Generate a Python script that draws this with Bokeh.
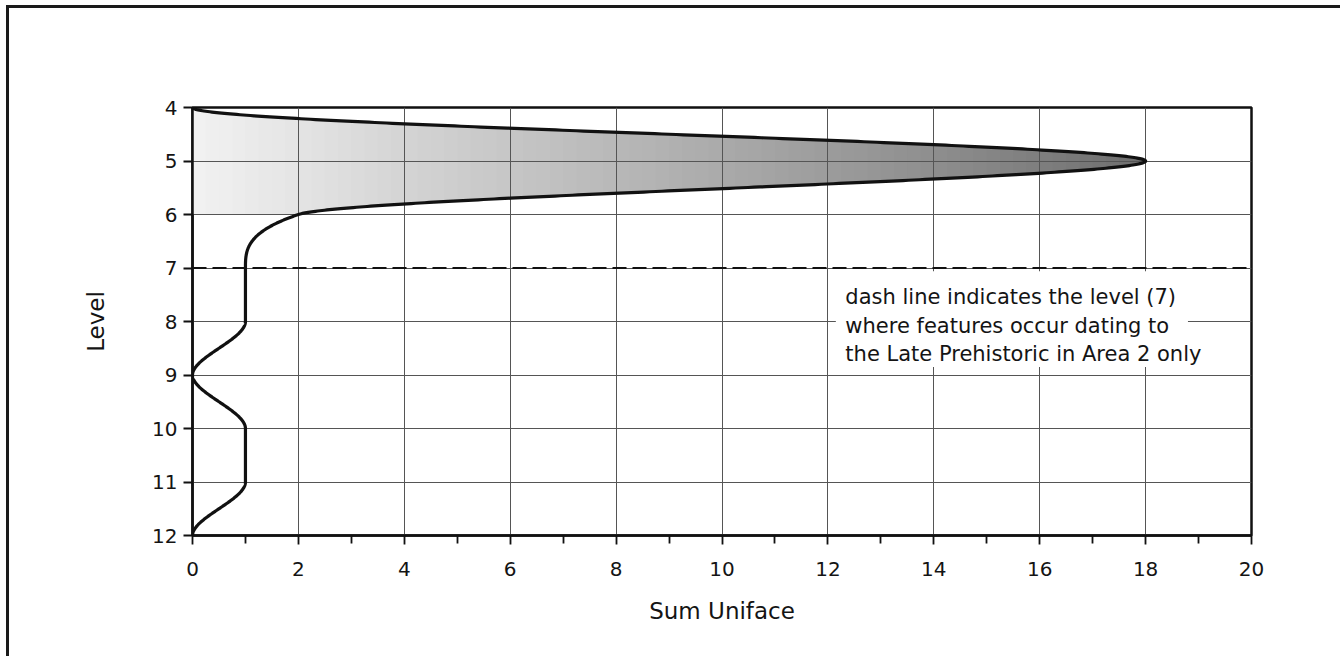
import numpy as np
from bokeh.plotting import figure
from bokeh.models import Range1d, FixedTicker, Span, ColumnDataSource
from bokeh.core.properties import value
from bokeh.embed import file_html
from bokeh.resources import INLINE

# ---- data ----
levels = [4, 5, 6, 7, 8, 9, 10, 11, 12]
sum_uniface = [0, 18, 2, 1, 1, 0, 1, 1, 0]
x_ticks = [0, 2, 4, 6, 8, 10, 12, 14, 16, 18, 20]
x_minor = [1, 3, 5, 7, 9, 11, 13, 15, 17, 19]
y_ticks = [4, 5, 6, 7, 8, 9, 10, 11, 12]
dash_level = 7
note_lines = [
    "dash line indicates the level (7)",
    "where features occur dating to",
    "the Late Prehistoric in Area 2 only",
]
x_title = "Sum Uniface"
y_title = "Level"

FONT = "DejaVu Sans"
INK = "#141414"


def monotone_slopes(xs, ys):
    xs = np.asarray(xs, float)
    ys = np.asarray(ys, float)
    h = np.diff(xs)
    d = np.diff(ys) / h
    m = np.zeros(len(xs))
    for i in range(1, len(xs) - 1):
        if d[i - 1] * d[i] > 0:
            m[i] = (d[i - 1] + d[i]) / 2.0
    for k in range(len(d)):
        if d[k] == 0:
            m[k] = 0.0
            m[k + 1] = 0.0
            continue
        a = m[k] / d[k]
        b = m[k + 1] / d[k]
        s = a * a + b * b
        if s > 9:
            tau = 3.0 / np.sqrt(s)
            m[k] = tau * a * d[k]
            m[k + 1] = tau * b * d[k]
    return m


def smooth(xs, ys, n=200):
    xs = np.asarray(xs, float)
    ys = np.asarray(ys, float)
    m = monotone_slopes(xs, ys)
    out_l, out_v = [], []
    for k in range(len(xs) - 1):
        h = xs[k + 1] - xs[k]
        t = np.linspace(0, 1, n, endpoint=(k == len(xs) - 2))
        h00 = 2 * t**3 - 3 * t**2 + 1
        h10 = t**3 - 2 * t**2 + t
        h01 = -2 * t**3 + 3 * t**2
        h11 = t**3 - t**2
        out_l.append(xs[k] + t * h)
        out_v.append(h00 * ys[k] + h10 * h * m[k] + h01 * ys[k + 1] + h11 * h * m[k + 1])
    return np.concatenate(out_l), np.concatenate(out_v)


curve_level, curve_x = smooth(levels, sum_uniface)

p = figure(
    width=1340, height=656,
    x_range=Range1d(0, 20), y_range=Range1d(12, 4),
    output_backend="svg", toolbar_location=None,
    min_border_left=192, min_border_top=107, min_border_right=89, min_border_bottom=121,
    background_fill_color="white", border_fill_color=None,
)
p.styles = {"box-shadow": "inset 6px 5px 0px 0px white, inset 9px 8px 0px 0px #1a1a1a",
            "background-color": "white"}

# gradient fill of the upper lobe (levels 4..6)
mask = curve_level <= 6.0
fl = curve_level[mask]
fx = curve_x[mask]
xmax = max(sum_uniface)
edges = np.linspace(0, xmax, 73)
anchor_x = [0, 2, 4, 6, 8, 10, 12, 14, 16, 18]
anchor_g = [242, 228, 212, 198, 184, 170, 156, 142, 126, 110]
for a, b in zip(edges[:-1], edges[1:]):
    g = int(round(np.interp((a + b) / 2, anchor_x, anchor_g)))
    col = "#%02x%02x%02x" % (g, g, g)
    x2 = np.clip(fx, a, b + 0.03)
    r = p.harea(y=fl, x1=np.full_like(fl, a), x2=x2, fill_color=col, fill_alpha=1.0)
    r.level = "image"

# white box behind the note
p.quad(left=[12.15], right=[18.8], top=[7.06], bottom=[8.85],
       fill_color="white", line_color=None)

# curve
p.line(curve_x, curve_level, line_color="#111111", line_width=3.2, line_join="round")

# dashed level line
p.add_layout(Span(location=dash_level, dimension="width", line_color="#111111",
                  line_width=2, line_dash="14 6"))

# note text
src = ColumnDataSource(dict(x=[12.33] * 3, y=[7.55, 8.08, 8.61], t=note_lines))
p.text(x="x", y="y", text="t", source=src, text_font=value(FONT),
       text_font_size="21px", text_color=INK, text_align="left", text_baseline="middle")

# grid
p.xgrid.ticker = FixedTicker(ticks=x_ticks)
p.ygrid.ticker = FixedTicker(ticks=y_ticks)
for g in (p.xgrid, p.ygrid):
    g.grid_line_color = "#555555"
    g.grid_line_width = 1
    g.grid_line_alpha = 1.0

# axes
p.xaxis.ticker = FixedTicker(ticks=x_ticks, minor_ticks=x_minor)
p.yaxis.ticker = FixedTicker(ticks=y_ticks)
for ax in (p.xaxis, p.yaxis):
    ax.axis_line_color = "#111111"
    ax.axis_line_width = 2.5
    ax.major_tick_line_color = "#111111"
    ax.major_tick_line_width = 1.8
    ax.major_tick_in = 0
    ax.major_tick_out = 9
    ax.major_label_text_font = FONT
    ax.major_label_text_font_size = "20px"
    ax.major_label_text_color = INK
    ax.axis_label_text_font = FONT
    ax.axis_label_text_font_size = "23px"
    ax.axis_label_text_font_style = "normal"
    ax.axis_label_text_color = INK
p.xaxis.minor_tick_line_color = "#111111"
p.xaxis.minor_tick_line_width = 1.8
p.xaxis.minor_tick_in = 0
p.xaxis.minor_tick_out = 8
p.yaxis.minor_tick_line_color = None
p.xaxis.major_label_standoff = 17
p.yaxis.major_label_standoff = 6
p.xaxis.axis_label = x_title
p.yaxis.axis_label = y_title
p.xaxis.axis_label_standoff = 19
p.yaxis.axis_label_standoff = 40

p.outline_line_color = "#111111"
p.outline_line_width = 2.5
p.outline_line_alpha = 1.0

open("out.html", "w").write(file_html(p, INLINE))
